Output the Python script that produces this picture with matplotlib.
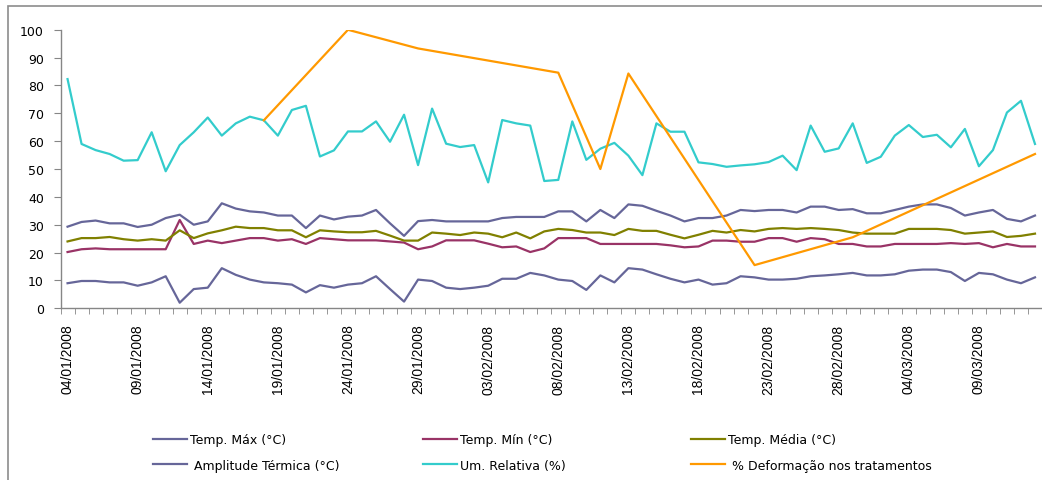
import matplotlib
matplotlib.use("Agg")
import matplotlib.pyplot as plt
from matplotlib.patches import Rectangle
import numpy as np
import pandas as pd

# Daily records, 04/01/2008 to 13/03/2008
dias = pd.date_range("2008-01-04", "2008-03-13", freq="D")

temp_max = [29.3, 31.0, 31.5, 30.5, 30.5, 29.2, 30.0, 32.4, 33.6, 30.0,
            31.2, 37.7, 35.8, 34.8, 34.4, 33.3, 33.3, 28.8, 33.3, 31.9,
            32.9, 33.3, 35.3, 30.5, 26.0, 31.3, 31.7, 31.2, 31.2, 31.2,
            31.2, 32.4, 32.8, 32.8, 32.8, 34.8, 34.8, 31.2, 35.3, 32.4,
            37.3, 36.8, 35.0, 33.3, 31.2, 32.4, 32.4, 33.3, 35.3, 34.9,
            35.3, 35.3, 34.4, 36.5, 36.5, 35.3, 35.6, 34.1, 34.1, 35.3,
            36.5, 37.3, 37.3, 36.0, 33.3, 34.4, 35.3, 32.1, 31.2, 33.3]

temp_min = [20.2, 21.2, 21.5, 21.2, 21.2, 21.2, 21.2, 21.2, 31.7, 23.1,
            24.3, 23.4, 24.3, 25.2, 25.2, 24.3, 24.8, 23.1, 25.2, 24.8,
            24.4, 24.4, 24.4, 24.0, 23.6, 21.2, 22.2, 24.4, 24.4, 24.4,
            23.2, 21.9, 22.2, 20.2, 21.5, 25.2, 25.2, 25.2, 23.1, 23.1,
            23.1, 23.1, 23.1, 22.6, 21.9, 22.2, 24.3, 24.3, 23.9, 23.9,
            25.2, 25.2, 23.9, 25.2, 24.8, 23.1, 23.1, 22.2, 22.2, 23.1,
            23.1, 23.1, 23.1, 23.4, 23.1, 23.4, 21.9, 23.1, 22.2, 22.2]

temp_media = [24.0, 25.2, 25.2, 25.6, 24.8, 24.3, 24.8, 24.3, 28.0, 25.2,
              26.9, 28.0, 29.3, 28.8, 28.8, 28.0, 28.0, 25.5, 28.0, 27.6,
              27.3, 27.3, 27.8, 26.1, 24.3, 24.3, 27.2, 26.8, 26.3, 27.2,
              26.8, 25.5, 27.2, 25.1, 27.6, 28.5, 28.1, 27.2, 27.2, 26.3,
              28.5, 27.8, 27.8, 26.4, 25.1, 26.4, 27.8, 27.2, 28.1, 27.6,
              28.5, 28.8, 28.5, 28.8, 28.5, 28.1, 27.2, 26.8, 26.8, 26.8,
              28.5, 28.5, 28.5, 28.1, 26.8, 27.2, 27.6, 25.6, 26.0, 26.8]

amplitude = [9.0, 9.8, 9.8, 9.3, 9.3, 8.1, 9.3, 11.5, 2.0, 6.9,
             7.4, 14.4, 12.0, 10.3, 9.3, 9.0, 8.5, 5.7, 8.3, 7.4,
             8.5, 9.0, 11.5, 6.9, 2.4, 10.3, 9.8, 7.4, 6.9, 7.4,
             8.1, 10.6, 10.6, 12.7, 11.8, 10.3, 9.8, 6.6, 11.8, 9.3,
             14.4, 13.9, 12.2, 10.6, 9.3, 10.3, 8.5, 9.0, 11.5, 11.1,
             10.3, 10.3, 10.6, 11.5, 11.8, 12.2, 12.7, 11.8, 11.8, 12.2,
             13.5, 13.9, 13.9, 13.0, 9.8, 12.7, 12.2, 10.3, 9.0, 11.1]

umidade = [82.3, 59.0, 56.8, 55.4, 53.0, 53.2, 63.2, 49.2, 58.6, 63.2,
           68.5, 62.0, 66.4, 68.8, 67.5, 62.0, 71.2, 72.7, 54.5, 56.7,
           63.5, 63.5, 67.1, 59.8, 69.5, 51.4, 71.7, 59.1, 57.9, 58.6,
           45.2, 67.6, 66.4, 65.6, 45.7, 46.1, 67.1, 53.3, 57.3, 59.4,
           54.8, 47.8, 66.4, 63.4, 63.4, 52.4, 51.8, 50.8, 51.3, 51.7,
           52.5, 54.8, 49.6, 65.6, 56.2, 57.4, 66.4, 52.2, 54.4, 62.0,
           65.8, 61.5, 62.3, 57.8, 64.4, 51.0, 56.8, 70.3, 74.5, 59.0]

# % deformation, only measured on some days
def_datas = ["2008-01-18", "2008-01-24", "2008-01-29", "2008-02-08", "2008-02-11",
             "2008-02-13", "2008-02-22", "2008-02-29", "2008-03-13"]
def_valores = [67.5, 100.0, 93.3, 84.6, 50.0, 84.3, 15.5, 25.5, 55.4]

cor_max = "#666699"
cor_min = "#993366"
cor_media = "#808000"
cor_umid = "#33CCCC"
cor_def = "#FF9900"
cinza = "#868686"

fig = plt.figure(figsize=(10.42, 4.81), dpi=100)
ax = fig.add_axes([0.0581, 0.357, 0.9419, 0.579])

x = np.arange(len(dias))
lw = 1.6
l_max, = ax.plot(x, temp_max, color=cor_max, lw=lw, label="Temp. Máx (°C)")
l_min, = ax.plot(x, temp_min, color=cor_min, lw=lw, label="Temp. Mín (°C)")
l_med, = ax.plot(x, temp_media, color=cor_media, lw=lw, label="Temp. Média (°C)")
l_amp, = ax.plot(x, amplitude, color=cor_max, lw=lw, label=" Amplitude Térmica (°C)")
l_um, = ax.plot(x, umidade, color=cor_umid, lw=lw, label="Um. Relativa (%)")
x_def = dias.get_indexer(pd.to_datetime(def_datas))
l_def, = ax.plot(x_def, def_valores, color=cor_def, lw=lw,
                 label=" % Deformação nos tratamentos")

ax.set_xlim(-0.5, len(dias) - 0.5)
ax.set_ylim(0, 100)
ax.set_yticks(range(0, 101, 10))

ax.set_xticks(x[::5])
ax.set_xticklabels(dias[::5].strftime("%d/%m/%Y"), rotation=90,
                   fontsize=10, family="Liberation Sans")
ax.set_xticks(np.arange(-0.5, len(dias), 1), minor=True)
ax.tick_params(axis="x", which="major", length=0, pad=11)
ax.tick_params(axis="x", which="minor", length=4, color=cinza)
ax.tick_params(axis="y", length=5, color=cinza, labelsize=9, pad=7)

for s in ["top", "right"]:
    ax.spines[s].set_visible(False)
for s in ["left", "bottom"]:
    ax.spines[s].set_color(cinza)
    ax.spines[s].set_linewidth(1)

# outer chart frame (clipped at right and bottom in the original)
fig.patches.append(Rectangle((8 / 1042, -0.1), 1.5, 1.1 - 7 / 481,
                             transform=fig.transFigure, fill=False,
                             edgecolor="#8c8c8c", lw=1.2))

colunas = [([l_max, l_amp], 153), ([l_min, l_um], 423), ([l_med, l_def], 691)]
for handles, xpos in colunas:
    fig.legend(handles=handles, loc="center left",
               bbox_to_anchor=(xpos / 1042, 1 - 453.5 / 481),
               frameon=False, fontsize=9, handlelength=2.7,
               handletextpad=0.3, labelspacing=1.0, borderpad=0,
               borderaxespad=0)

fig.savefig("out.png", dpi=100)
